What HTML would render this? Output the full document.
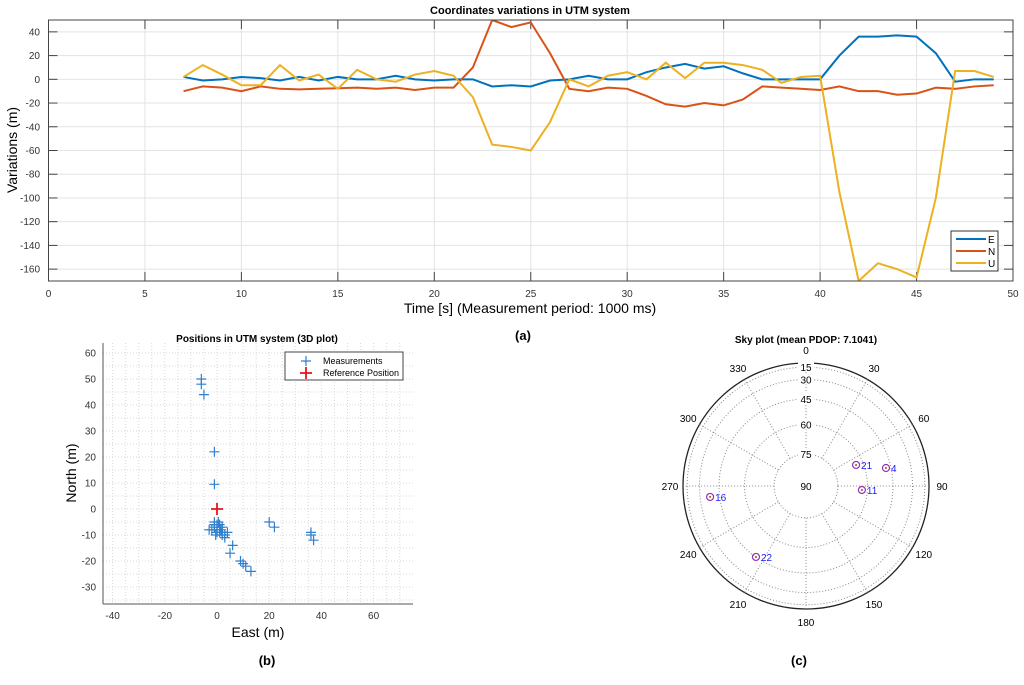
<!DOCTYPE html>
<html><head><meta charset="utf-8"><style>
body{margin:0;background:#fff;width:1024px;height:680px;overflow:hidden}
svg{font-family:"Liberation Sans",sans-serif}
</style></head><body>
<svg id="s" width="1024" height="680" xmlns="http://www.w3.org/2000/svg">
<g id="ga"></g>
<g id="gb"></g>
<g id="gc"></g>
<text x="523" y="340" font-size="13" font-weight="bold" text-anchor="middle">(a)</text>
<text x="267" y="665" font-size="13" font-weight="bold" text-anchor="middle">(b)</text>
<text x="799" y="665" font-size="13" font-weight="bold" text-anchor="middle">(c)</text>
</svg>
<script>
const times=[7,8,9,10,11,12,13,14,15,16,17,18,19,20,21,22,23,24,25,26,27,28,29,30,31,32,33,34,35,36,37,38,39,40,41,42,43,44,45,46,47,48,49];
const seriesE=[2,-1,0,2,1,-1,2,-1,2,0,0,3,0,-1,0,0,-6,-5,-6,-1,0,3,0,0,6,10,13,9,11,5,0,0,0,0,20,36,36,37,36,22,-2,0,0];
const seriesN=[-10,-6,-7,-10,-6,-8,-8.5,-8,-7.5,-7,-8,-7,-9,-7,-7,10,50,44,48,22,-8,-10,-7,-8,-14,-21,-23,-20,-22,-17,-6,-7,-8,-9,-6,-10,-10,-13,-12,-7,-8,-6,-5];
const seriesU=[2,12,4,-5,-5,12,-1,4,-8,8,0,-2,4,7,3,-15,-55,-57,-60,-36,0,-6,3,6,0,14,1,14,14,12,8,-3,2,3,-95,-170,-155,-160,-167,-100,7,7,2];
const xTicksA=[0,5,10,15,20,25,30,35,40,45,50];
const yTicksA=[40,20,0,-20,-40,-60,-80,-100,-120,-140,-160];
const measEast=[-6,-6,-5,-1,-1,-1,0,-1,0,-2,-3,1,2,3,2,0,4,5,6,9,10,11,13,20,22,36,36,37,-1,1,2,3,1,-0.5,0.5,1.5];
const measNorth=[50,48,44,22,9.5,-5,-6,-7,-8,-8,-8,-7,-9,-10,-10,-9,-9,-17,-14,-20,-21,-22,-24,-5,-7,-9,-10,-12,-6,-6,-7,-11,-9,-10,-5,-8];
const refEast=[0],refNorth=[0];
const xTicksB=[-40,-20,0,20,40,60];
const yTicksB=[60,50,40,30,20,10,0,-10,-20,-30];
const satIds=["21","4","11","16","22"];
const satAz=[67.2,77.3,94.1,263.5,215.2];
const satEl=[63.8,48.2,62.9,38.3,45.1];
const azLabels=[0,30,60,90,120,150,180,210,240,270,300,330];
const elRings=[15,30,45,60,75];

const NS="http://www.w3.org/2000/svg";
function mk(p,t,a,txt){const e=document.createElementNS(NS,t);for(const k in a)e.setAttribute(k,a[k]);if(txt!==undefined)e.textContent=txt;p.appendChild(e);return e;}

// ---- chart a
const ga=document.getElementById('ga');
const L=48.5,R=1013,T=20,B=281;
const xa=t=>L+t*(R-L)/50, ya=v=>T+(50-v)*(B-T)/220;
for(const t of xTicksA){const g=mk(ga,'line',{x1:xa(t),x2:xa(t),y1:T,y2:B,stroke:'#e3e3e3','stroke-width':1});
const l=mk(ga,'text',{x:xa(t),y:297,'font-size':10,'text-anchor':'middle',fill:'#333'},t);
mk(ga,'line',{x1:xa(t),x2:xa(t),y1:T,y2:T+9,stroke:'#444'});mk(ga,'line',{x1:xa(t),x2:xa(t),y1:B,y2:B-9,stroke:'#444'});}
for(const v of yTicksA){const g=mk(ga,'line',{x1:L,x2:R,y1:ya(v),y2:ya(v),stroke:'#e3e3e3'});
const l=mk(ga,'text',{x:40,y:ya(v)+3.5,'font-size':10,'text-anchor':'end',fill:'#333'},v);
mk(ga,'line',{x1:L,x2:L+9,y1:ya(v),y2:ya(v),stroke:'#444'});mk(ga,'line',{x1:R,x2:R-9,y1:ya(v),y2:ya(v),stroke:'#444'});}
const cols=['#0072BD','#D95319','#EDB120'];const ser=[seriesE,seriesN,seriesU];const nm=['E','N','U'];
const cp=mk(ga,'clipPath',{id:'cpa'});mk(cp,'rect',{x:L,y:T,width:R-L,height:B-T});
ser.forEach((s,i)=>{const p=mk(ga,'polyline',{points:s.map((v,j)=>xa(times[j])+','+ya(v)).join(' '),fill:'none',stroke:cols[i],'stroke-width':2,'clip-path':'url(#cpa)'});
});
const fr=mk(ga,'rect',{x:L,y:T,width:R-L,height:B-T,fill:'none',stroke:'#444'});
const lg=mk(ga,'g',{});
mk(lg,'rect',{x:951,y:231,width:47,height:40,fill:'#fff',stroke:'#333'});
nm.forEach((n,i)=>{mk(lg,'line',{x1:956,x2:986,y1:239+i*12,y2:239+i*12,stroke:cols[i],'stroke-width':2});const t=mk(lg,'text',{x:988,y:243+i*12,'font-size':10},n);});
let t=mk(ga,'text',{x:530,y:14,'font-size':11,'font-weight':'bold','text-anchor':'middle'},'Coordinates variations in UTM system');
t=mk(ga,'text',{x:530,y:313,'font-size':14,'text-anchor':'middle'},'Time [s] (Measurement period: 1000 ms)');
t=mk(ga,'text',{x:0,y:0,'font-size':14,'text-anchor':'middle',transform:'translate(17,150) rotate(-90)'},'Variations (m)');

// ---- chart b
const gb=document.getElementById('gb');
const bL=103,bR=413,bT=343,bB=604;
const xb=e=>217+e*2.61, yb=n=>509-n*2.6;
for(let e=-40;e<=70;e+=5){mk(gb,'line',{x1:xb(e),x2:xb(e),y1:bT,y2:bB,stroke:'#d8d8d8','stroke-dasharray':'1,2'});}
for(let n=-35;n<=60;n+=5){mk(gb,'line',{x1:bL,x2:bR,y1:yb(n),y2:yb(n),stroke:'#d8d8d8','stroke-dasharray':'1,2'});}
for(const e of xTicksB){const l=mk(gb,'text',{x:xb(e),y:619,'font-size':10,'text-anchor':'middle',fill:'#333'},e);}
for(const n of yTicksB){const l=mk(gb,'text',{x:96,y:yb(n)+3.5,'font-size':10,'text-anchor':'end',fill:'#333'},n);}
mk(gb,'line',{x1:bL,x2:bL,y1:bT,y2:bB,stroke:'#555'});mk(gb,'line',{x1:bL,x2:bR,y1:bB,y2:bB,stroke:'#555'});
function plus(g,x,y,s,c,w,name){const p=mk(g,'path',{d:`M${x-s},${y}H${x+s}M${x},${y-s}V${y+s}`,stroke:c,'stroke-width':w});}
measEast.forEach((e,i)=>plus(gb,xb(e),yb(measNorth[i]),5,'#2f7fcc',1.2,'measurement-point'));
refEast.forEach((e,i)=>plus(gb,xb(e),yb(refNorth[i]),6,'#e8141b',1.8,'reference-point'));
const lb=mk(gb,'g',{});
mk(lb,'rect',{x:285,y:352,width:118,height:28,fill:'#fff',stroke:'#444'});
plus(lb,306,361,5,'#2f7fcc',1.2,'legend-marker');plus(lb,306,373,6,'#e8141b',1.8,'legend-marker');
t=mk(lb,'text',{x:323,y:364,'font-size':9},'Measurements');
t=mk(lb,'text',{x:323,y:376,'font-size':9},'Reference Position');
t=mk(gb,'text',{x:257,y:342,'font-size':10,'font-weight':'bold','text-anchor':'middle'},'Positions in UTM system (3D plot)');
t=mk(gb,'text',{x:258,y:637,'font-size':14,'text-anchor':'middle'},'East (m)');
t=mk(gb,'text',{x:0,y:0,'font-size':14,'text-anchor':'middle',transform:'translate(76,473) rotate(-90)'},'North (m)');

// ---- sky plot
const gc=document.getElementById('gc');
const cx=806,cy=486,RR=123;
const rad=el=>RR*Math.cos(el*Math.PI/180);
const px=(az,el)=>cx+rad(el)*Math.sin(az*Math.PI/180), py=(az,el)=>cy-rad(el)*Math.cos(az*Math.PI/180);
mk(gc,'circle',{cx,cy,r:RR,fill:'#fff',stroke:'#222','stroke-width':1.3});
for(const el of elRings){const c=mk(gc,'circle',{cx,cy,r:rad(el),fill:'none',stroke:'#888','stroke-dasharray':'1,2'});}
for(const az of azLabels){mk(gc,'line',{x1:px(az,75),y1:py(az,75),x2:px(az,0),y2:py(az,0),stroke:'#888','stroke-dasharray':'1,2'});
const l=mk(gc,'text',{x:cx+(RR+13)*Math.sin(az*Math.PI/180),y:cy-(RR+13)*Math.cos(az*Math.PI/180)+4,'font-size':10,'text-anchor':'middle'},az);}
for(const el of [15,30,45,60,75,90]){mk(gc,'rect',{x:cx-8,y:cy-rad(el)-6,width:16,height:11,fill:'#fff'});
const tx=mk(gc,'text',{x:cx,y:cy-rad(el)+4,'font-size':10,'text-anchor':'middle'},el);}
satIds.forEach((id,i)=>{const x=px(satAz[i],satEl[i]),y=py(satAz[i],satEl[i]);
const c=mk(gc,'circle',{cx:x,cy:y,r:3.5,fill:'none',stroke:'#9b30b0','stroke-width':1.2});
mk(gc,'circle',{cx:x,cy:y,r:1,fill:'#a05020'});
const l=mk(gc,'text',{x:x+5,y:y+4,'font-size':10,fill:'#1a1aff'},id);});
t=mk(gc,'text',{x:806,y:343,'font-size':10,'font-weight':'bold','text-anchor':'middle'},'Sky plot (mean PDOP: 7.1041)');
</script>
</body></html>
